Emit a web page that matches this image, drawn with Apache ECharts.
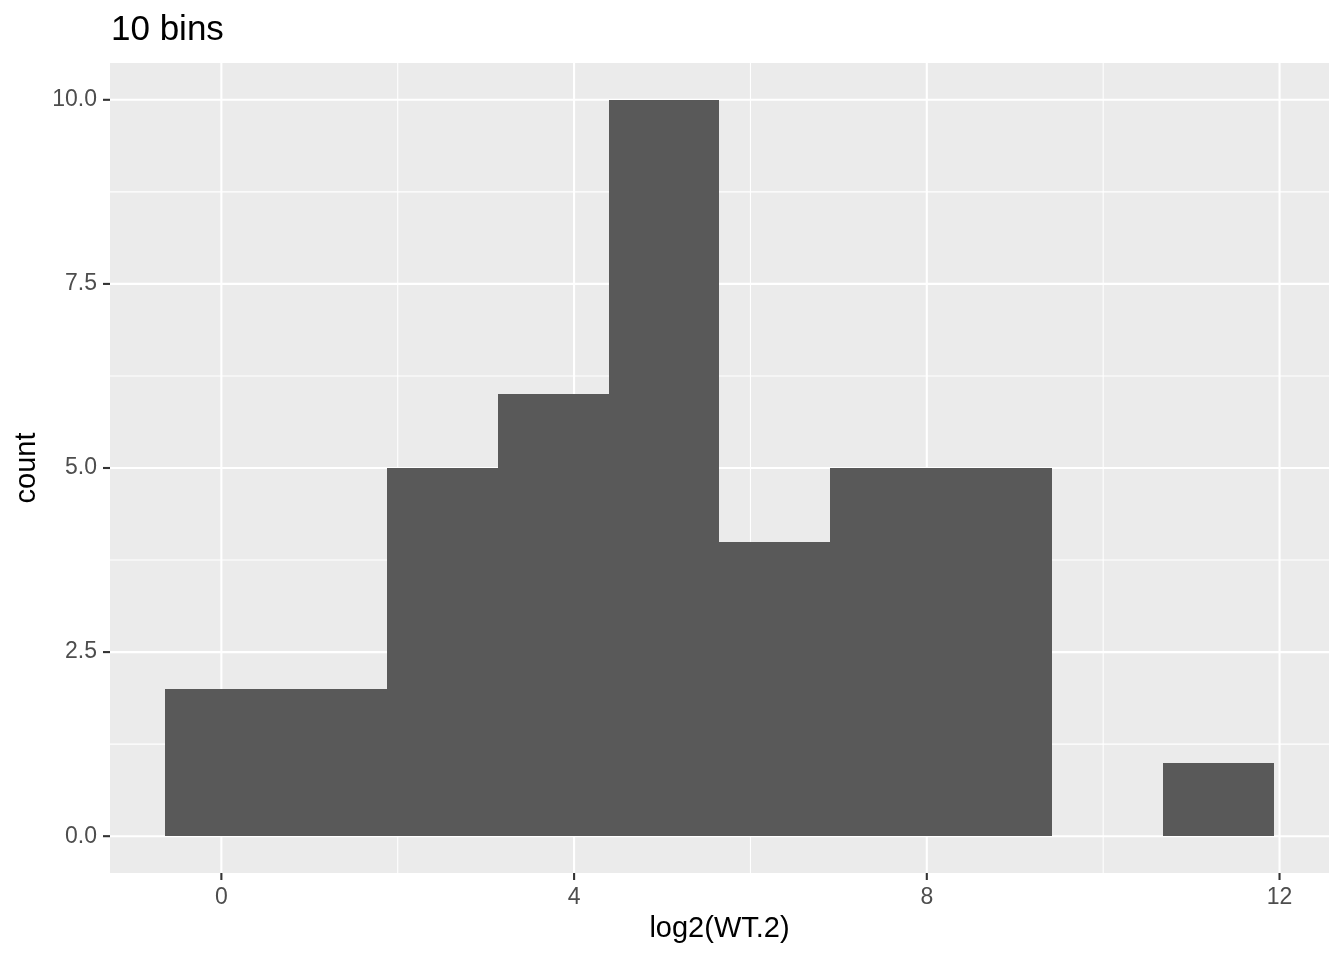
<!DOCTYPE html>
<html>
<head>
<meta charset="utf-8">
<script src="https://cdn.jsdelivr.net/npm/echarts@6/dist/echarts.min.js"></script>
<style>html,body{margin:0;padding:0;background:#fff}#c{width:1344px;height:960px}</style>
</head>
<body>
<div id="c"></div>
<script>
// Histogram bins (left edge, right edge) in log2(WT.2) units, and counts
const binStart = [-0.635, 0.622, 1.878, 3.135, 4.392, 5.648, 6.905, 8.162, 9.418, 10.675];
const binEnd   = [0.622, 1.878, 3.135, 4.392, 5.648, 6.905, 8.162, 9.418, 10.675, 11.932];
const counts   = [2, 2, 5, 6, 10, 4, 5, 5, 0, 1];
const xTicks = [0, 4, 8, 12];
const xMinor = [2, 6, 10];
const yTicks = [0, 2.5, 5, 7.5, 10];
const yMinor = [1.25, 3.75, 6.25, 8.75];
const xMin = -1.263, xMax = 12.561, yMin = -0.5, yMax = 10.5;

const FONT = 'Liberation Sans, Arial, sans-serif';
const barData = counts.map((c, i) => [binStart[i], binEnd[i], c]);
const gridData = []
  .concat(xMinor.map(v => [v, 0, 0]))
  .concat(yMinor.map(v => [v, 1, 0]))
  .concat(xTicks.map(v => [v, 0, 1]))
  .concat(yTicks.map(v => [v, 1, 1]));
const tickData = [].concat(xTicks.map(v => [v, 0])).concat(yTicks.map(v => [v, 1]));

const chart = echarts.init(document.getElementById('c'), null, {renderer: 'canvas'});
chart.setOption({
  animation: false,
  backgroundColor: '#ffffff',
  title: {
    text: '10 bins', left: 106, top: 8,
    textStyle: {fontFamily: FONT, fontSize: 35, fontWeight: 'normal', color: '#000'}
  },
  grid: {left: 110, right: 15, top: 63, bottom: 87, show: true, backgroundColor: '#EBEBEB', borderWidth: 0},
  xAxis: {
    type: 'value', min: xMin, max: xMax,
    name: 'log2(WT.2)', nameLocation: 'middle', nameGap: 41,
    nameTextStyle: {fontFamily: FONT, fontSize: 29, color: '#000'},
    axisLine: {show: false},
    axisTick: {show: false},
    axisLabel: {customValues: xTicks, margin: 13, fontFamily: FONT, fontSize: 23, color: '#4D4D4D'},
    splitLine: {show: false}
  },
  yAxis: {
    type: 'value', min: yMin, max: yMax,
    name: 'count', nameLocation: 'middle', nameGap: 68, nameRotate: 90,
    nameTextStyle: {fontFamily: FONT, fontSize: 29, color: '#000'},
    axisLine: {show: false},
    axisTick: {show: false},
    axisLabel: {customValues: yTicks, margin: 13, fontFamily: FONT, fontSize: 23, color: '#4D4D4D',
      formatter: v => v.toFixed(1), padding: [3, 0, 0, 0]},
    splitLine: {show: false}
  },
  series: [
    {
      type: 'custom', z: 1, silent: true, data: gridData,
      renderItem: function (params, api) {
        const v = api.value(0), isY = api.value(1), major = api.value(2);
        let p1, p2;
        if (isY) { p1 = api.coord([xMin, v]); p2 = api.coord([xMax, v]); }
        else { p1 = api.coord([v, yMin]); p2 = api.coord([v, yMax]); }
        return {type: 'line', shape: {x1: p1[0], y1: p1[1], x2: p2[0], y2: p2[1]},
          style: {stroke: '#ffffff', lineWidth: major ? 2.1 : 1.05}};
      }
    },
    {
      type: 'custom', z: 2, data: barData,
      renderItem: function (params, api) {
        const a = api.coord([api.value(0), 0]);
        const b = api.coord([api.value(1), api.value(2)]);
        const x0 = Math.round(a[0]), x1 = Math.round(b[0]);
        const y0 = Math.round(a[1]), y1 = Math.round(b[1]);
        return {type: 'rect', shape: {x: x0, y: y1, width: x1 - x0, height: y0 - y1},
          style: {fill: '#595959'}};
      }
    },
    {
      type: 'custom', z: 3, silent: true, clip: false, data: tickData,
      renderItem: function (params, api) {
        const v = api.value(0), isY = api.value(1);
        let s;
        if (isY) { const p = api.coord([xMin, v]); s = {x1: p[0] - 7, y1: p[1], x2: p[0], y2: p[1]}; }
        else { const p = api.coord([v, yMin]); s = {x1: p[0], y1: p[1], x2: p[0], y2: p[1] + 7}; }
        return {type: 'line', shape: s, style: {stroke: '#333333', lineWidth: 2.1}};
      }
    }
  ]
});
</script>
</body>
</html>
